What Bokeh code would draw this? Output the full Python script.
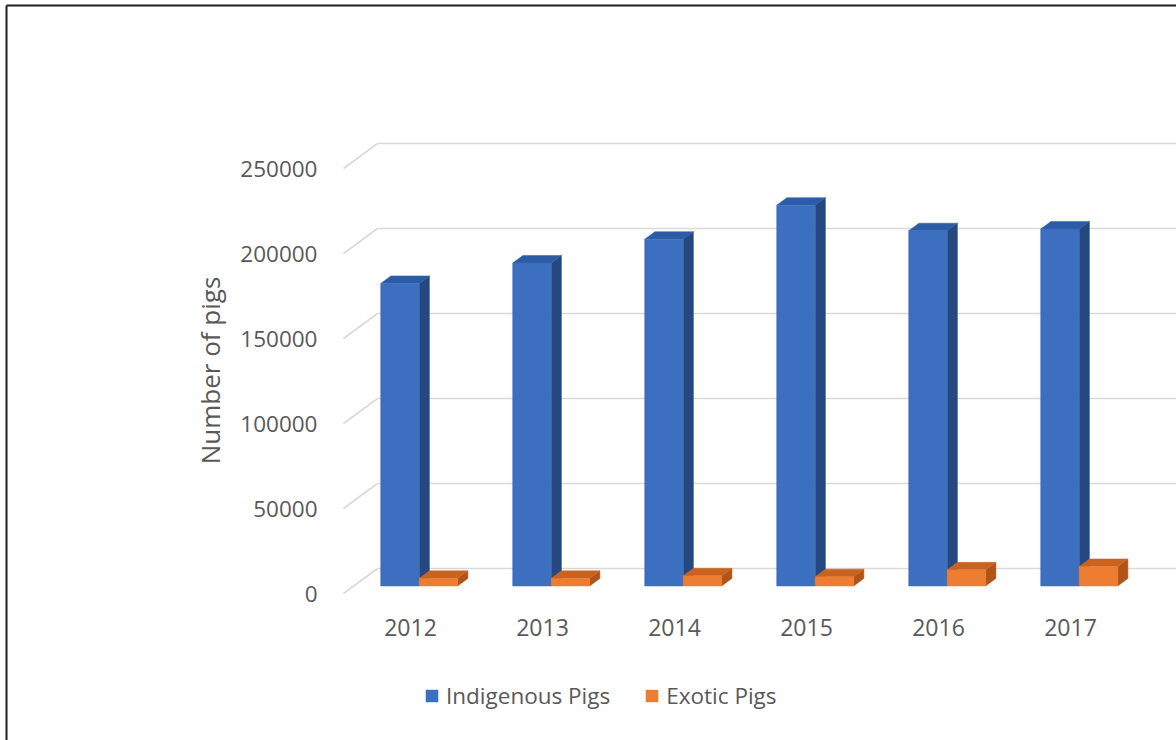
from bokeh.plotting import figure
from bokeh.models import Range1d, FixedTicker, Legend, LegendItem, BasicTickFormatter, LinearAxis
from bokeh.embed import file_html
from bokeh.resources import INLINE

# ---------------- data ----------------
years = ["2012", "2013", "2014", "2015", "2016", "2017"]
indigenous = [178000, 190000, 204000, 224000, 209000, 210000]
exotic = [4500, 4500, 6000, 5500, 9500, 11500]
y_ticks = [0, 50000, 100000, 150000, 200000, 250000]
series_names = ["Indigenous Pigs", "Exotic Pigs"]
axis_title = "Number of pigs"

# ---------------- layout constants (pixels) ----------------
W, H = 1176, 740
CAT_PX = 132.0          # spacing between categories
X0_PX = 410.0           # first category centre
Y0_PX = 593.0           # value 0 on the front edge of the floor
VAL_PX = 85.0 / 50000   # px per unit
DEP_X, DEP_Y = 34.0, 25.0   # full depth offset (right, up)
T_FRONT, T_BACK = 0.30, 0.60  # bar depth position
BAR_W = 38.5
BAR_OFF = [-40.0, -1.5]

FONT = "Open Sans"
TXT = "#595959"
GRID = "#d9d9d9"
FACE = {
    0: ("#3d6fc0", "#2d5ca6", "#24487f"),   # front, top, side
    1: ("#ed7d31", "#c9631f", "#b0541a"),
}


def dx(px):
    return px / CAT_PX


def dy(px):
    return px / VAL_PX


def xd(px):
    return (px - X0_PX) / CAT_PX


def yd(py):
    return (Y0_PX - py) / VAL_PX


p = figure(width=W, height=H, x_range=Range1d(xd(0), xd(W)), y_range=Range1d(yd(H), yd(0)),
           x_axis_type=None, y_axis_type=None, toolbar_location=None, output_backend="svg",
           min_border=0, outline_line_color=None, background_fill_color="white")
p.xgrid.visible = False
p.ygrid.visible = False

# back wall gridlines and side wall diagonals
wall_front_x = xd(343)
wall_back_x = xd(343 + DEP_X)
p.segment(x0=[wall_back_x] * len(y_ticks), y0=[v + dy(DEP_Y) for v in y_ticks],
          x1=[xd(W)] * len(y_ticks), y1=[v + dy(DEP_Y) for v in y_ticks],
          line_color=GRID, line_width=1.6)
p.segment(x0=[wall_front_x] * len(y_ticks), y0=y_ticks,
          x1=[wall_back_x] * len(y_ticks), y1=[v + dy(DEP_Y) for v in y_ticks],
          line_color=GRID, line_width=1.6)

# 3D bars
fx, fy = T_FRONT * DEP_X, T_FRONT * DEP_Y
bx, by = (T_BACK - T_FRONT) * DEP_X, (T_BACK - T_FRONT) * DEP_Y
front_renderers = []
for s, vals in enumerate([indigenous, exotic]):
    front_c, top_c, side_c = FACE[s]
    lefts, rights, bots, tops = [], [], [], []
    top_xs, top_ys, side_xs, side_ys = [], [], [], []
    for i, v in enumerate(vals):
        l = i + dx(BAR_OFF[s] + fx)
        r = l + dx(BAR_W)
        b = dy(fy)
        t = v + dy(fy)
        lefts.append(l); rights.append(r); bots.append(b); tops.append(t)
        top_xs.append([l, l + dx(bx), r + dx(bx), r])
        top_ys.append([t, t + dy(by), t + dy(by), t])
        side_xs.append([r, r + dx(bx), r + dx(bx), r])
        side_ys.append([b, b + dy(by), t + dy(by), t])
    p.patches(side_xs, side_ys, fill_color=side_c, line_color=side_c, line_width=0.5)
    p.patches(top_xs, top_ys, fill_color=top_c, line_color=top_c, line_width=0.5)
    fr = p.quad(left=lefts, right=rights, bottom=bots, top=tops,
                fill_color=front_c, line_color=front_c, line_width=0.5)
    front_renderers.append(fr)

# axes
yaxis = LinearAxis(fixed_location=xd(330), ticker=FixedTicker(ticks=y_ticks),
                   formatter=BasicTickFormatter(use_scientific=False),
                   axis_label=axis_title)
yaxis.axis_line_color = None
yaxis.major_tick_line_color = None
yaxis.minor_tick_line_color = None
yaxis.major_label_standoff = 7
yaxis.major_label_text_font = FONT
yaxis.major_label_text_font_size = "22.5px"
yaxis.major_label_text_color = TXT
yaxis.axis_label_text_font = FONT
yaxis.axis_label_text_font_size = "26px"
yaxis.axis_label_text_font_style = "normal"
yaxis.axis_label_text_color = TXT
yaxis.axis_label_standoff = 9
p.add_layout(yaxis, "left")

xaxis = LinearAxis(fixed_location=yd(608), ticker=FixedTicker(ticks=list(range(len(years)))),
                   major_label_overrides={i: y for i, y in enumerate(years)})
xaxis.axis_line_color = None
xaxis.major_tick_line_color = None
xaxis.minor_tick_line_color = None
xaxis.major_label_standoff = 4
xaxis.major_label_text_font = FONT
xaxis.major_label_text_font_size = "23px"
xaxis.major_label_text_color = TXT
p.add_layout(xaxis, "below")

# legend
legend = Legend(items=[LegendItem(label=series_names[k], renderers=[front_renderers[k]]) for k in range(2)],
                orientation="horizontal", location=(424, 29))
legend.padding = 0
legend.margin = 0
legend.border_line_color = None
legend.background_fill_alpha = 0
legend.glyph_width = 15
legend.glyph_height = 15
legend.label_standoff = 7
legend.spacing = 34
legend.label_text_font = FONT
legend.label_text_font_size = "22.5px"
legend.label_text_color = TXT
p.add_layout(legend, "center")

# frame border (top and left edges of the picture)
p.segment(x0=[xd(6), xd(6)], y0=[yd(5), yd(5)], x1=[xd(W), xd(6)], y1=[yd(5), yd(H)],
          line_color="#1f1f1f", line_width=2)

open("out.html", "w").write(file_html(p, INLINE))
